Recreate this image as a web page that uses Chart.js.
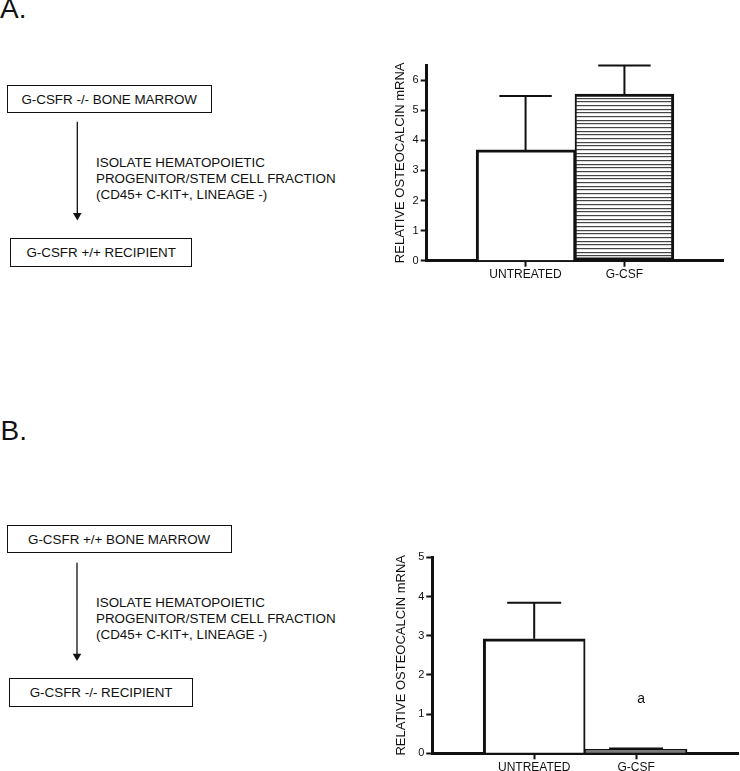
<!DOCTYPE html>
<html>
<head>
<meta charset="utf-8">
<script src="https://cdn.jsdelivr.net/npm/chart.js@4/dist/chart.umd.min.js"></script>
<style>
body{margin:0;width:740px;height:771px;position:relative;background:#fff;font-family:"Liberation Sans",Arial,sans-serif;color:#111;overflow:hidden}
.caja{position:absolute;border:1.3px solid #111;box-sizing:border-box;font-size:13.4px;display:flex;align-items:center;white-space:nowrap}
.letra{position:absolute;font-size:28px;line-height:28px}
.texto{position:absolute;font-size:13.4px;line-height:16px;white-space:nowrap}
canvas{position:absolute}
svg{position:absolute;left:0;top:0}
</style>
</head>
<body>
<div class="letra" style="left:0px;top:-4.7px">A.</div>
<div class="caja" style="left:6.7px;top:85px;width:205.6px;height:28.3px;padding-left:13.7px">G-CSFR -/- BONE MARROW</div>
<div class="texto" style="left:96px;top:155px">ISOLATE HEMATOPOIETIC<br>PROGENITOR/STEM CELL FRACTION<br>(CD45+ C-KIT+, LINEAGE -)</div>
<div class="caja" style="left:10px;top:238.3px;width:182.3px;height:28.4px;padding-left:15.4px">G-CSFR +/+ RECIPIENT</div>

<div class="letra" style="left:0.5px;top:417px">B.</div>
<div class="caja" style="left:6.7px;top:525px;width:225px;height:28.3px;padding-left:20.3px">G-CSFR +/+ BONE MARROW</div>
<div class="texto" style="left:96px;top:595.3px">ISOLATE HEMATOPOIETIC<br>PROGENITOR/STEM CELL FRACTION<br>(CD45+ C-KIT+, LINEAGE -)</div>
<div class="caja" style="left:9.3px;top:678.3px;width:183.4px;height:29px;padding-left:19.4px">G-CSFR -/- RECIPIENT</div>

<svg width="740" height="771">
  <line x1="77.3" y1="121.7" x2="77.3" y2="214" stroke="#111" stroke-width="1.3"/>
  <polygon points="73,213 81.6,213 77.3,220.5" fill="#111"/>
  <line x1="77" y1="562.7" x2="77" y2="654.5" stroke="#111" stroke-width="1.3"/>
  <polygon points="72.7,653.7 81.3,653.7 77,661" fill="#111"/>
</svg>

<canvas id="graficoA" width="350" height="240" style="left:380px;top:50px"></canvas>
<canvas id="graficoB" width="360" height="231" style="left:380px;top:540px"></canvas>

<script>
const categorias = ['UNTREATED', 'G-CSF'];
const valoresA = [3.68, 5.53];
const erroresA = [1.79, 0.95];
const valoresB = [2.92, 0.10];
const erroresB = [0.92, 0.02];
const letrasB = ['', 'a'];
const ticksA = [0, 1, 2, 3, 4, 5, 6];
const ticksB = [0, 1, 2, 3, 4, 5];

const fuente = '"Liberation Sans", Arial, sans-serif';

// relleno rayado horizontal para G-CSF
const rayado = (ctx) => {
    const c = document.createElement('canvas');
    c.width = 8; c.height = 11;
    const g = c.getContext('2d');
    g.fillStyle = '#fff';
    g.fillRect(0, 0, 8, 11);
    g.fillStyle = '#444';
    g.fillRect(0, 0, 8, 1.2);
    g.fillRect(0, 4, 8, 1.2);
    g.fillRect(0, 7, 8, 1.2);
    return ctx.createPattern(c, 'repeat');
};

const barrasError = {
    id: 'barrasError',
    afterDatasetsDraw(chart, args, opts) {
        const {ctx, scales: {y}} = chart;
        const meta = chart.getDatasetMeta(0);
        ctx.save();
        ctx.strokeStyle = '#111';
        ctx.lineWidth = 2;
        opts.valores.forEach((v, i) => {
            const bar = meta.data[i];
            const yBar = y.getPixelForValue(v);
            const yTop = y.getPixelForValue(v + opts.errores[i]);
            const medio = bar.width * opts.tapa / 2;
            ctx.beginPath();
            ctx.moveTo(bar.x, yBar);
            ctx.lineTo(bar.x, yTop);
            ctx.moveTo(bar.x - medio, yTop);
            ctx.lineTo(bar.x + medio, yTop);
            ctx.stroke();
            if (opts.letras && opts.letras[i]) {
                ctx.fillStyle = '#111';
                ctx.font = '14px ' + fuente;
                ctx.textAlign = 'center';
                ctx.textBaseline = 'middle';
                ctx.fillText(opts.letras[i], bar.x + 5, yTop - 49);
            }
        });
        ctx.restore();
    }
};

const crearGrafico = (id, valores, errores, maxY, ticks, letras, cfg) => {
    const canvas = document.getElementById(id);
    const relleno = cfg.relleno || rayado(canvas.getContext('2d'));
    const datos = categorias.map((c, i) => ({x: i + 1, y: valores[i]}));
    return new Chart(canvas, {
        type: 'bar',
        data: {
            datasets: [{
                data: datos,
                backgroundColor: ['#fff', relleno],
                borderColor: '#111',
                borderWidth: (c) => cfg.bordes[c.dataIndex],
                borderSkipped: false,
                barPercentage: 1,
                categoryPercentage: 1
            }]
        },
        plugins: [barrasError],
        options: {
            responsive: false,
            animation: false,
            layout: {padding: cfg.padding},
            plugins: {
                legend: {display: false},
                tooltip: {enabled: false},
                barrasError: {valores: valores, errores: errores, letras: letras, tapa: 0.53}
            },
            scales: {
                x: {
                    type: 'linear',
                    min: 0,
                    max: 3,
                    offset: false,
                    afterFit: (s) => { s.height = cfg.altoX; },
                    afterBuildTicks: (s) => { s.ticks = [0, 1, 2, 3].map((t) => ({value: t})); },
                    border: {display: true, color: '#111', width: 3},
                    grid: {
                        offset: false,
                        drawOnChartArea: false,
                        tickLength: 6,
                        tickWidth: 2,
                        tickColor: (c) => (c.tick && c.tick.value > 0 && c.tick.value < 3) ? '#111' : 'rgba(0,0,0,0)'
                    },
                    ticks: {
                        autoSkip: false,
                        maxRotation: 0,
                        padding: 1,
                        color: '#111',
                        font: {family: fuente, size: 12},
                        callback: (v) => categorias[v - 1] || ''
                    }
                },
                y: {
                    min: 0,
                    max: maxY,
                    afterFit: (s) => { s.width = cfg.anchoY; },
                    afterBuildTicks: (s) => { s.ticks = ticks.map((t) => ({value: t})); },
                    border: {display: true, color: '#111', width: 3},
                    grid: {drawOnChartArea: false, tickLength: 6, tickWidth: 2, tickColor: '#111'},
                    ticks: {
                        padding: 2,
                        color: '#111',
                        font: {family: fuente, size: 11}
                    },
                    title: {
                        display: true,
                        text: 'RELATIVE OSTEOCALCIN mRNA',
                        color: '#111',
                        padding: 0,
                        font: {family: fuente, size: 13}
                    }
                }
            }
        }
    });
};

crearGrafico('graficoA', valoresA, erroresA, 6.5, ticksA, null, {
    padding: {left: 12.9, top: 15, right: 6.7, bottom: 0},
    anchoY: 33.8,
    altoX: 29.3,
    bordes: [{left: 3, top: 3, right: 2, bottom: 0}, {left: 2, top: 3, right: 3, bottom: 3}]
});

crearGrafico('graficoB', valoresB, erroresB, 5, ticksB, letrasB, {
    padding: {left: 13.9, top: 17.3, right: 2, bottom: 0},
    anchoY: 38.4,
    altoX: 17.7,
    relleno: '#7a7a7a',
    bordes: [{left: 3, top: 3, right: 2, bottom: 0}, {left: 1, top: 1, right: 2, bottom: 0}]
});
</script>
</body>
</html>
